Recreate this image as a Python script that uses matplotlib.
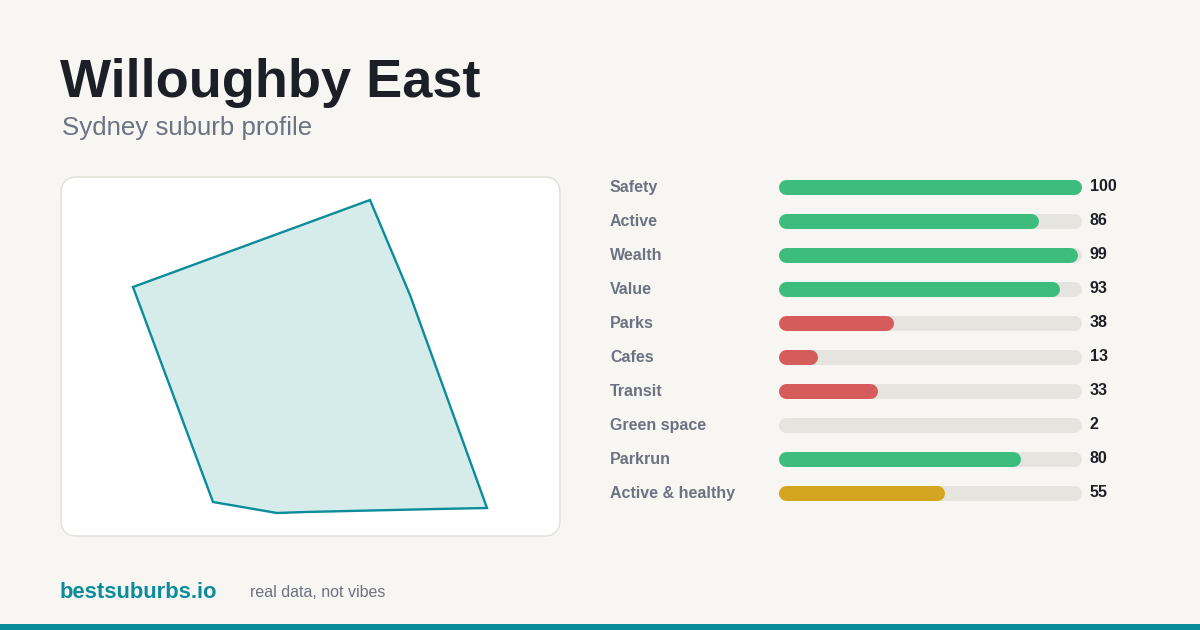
import matplotlib.pyplot as plt
from matplotlib.patches import FancyBboxPatch, Polygon, Rectangle

# === Data ===
suburb = "Willoughby East"
subtitle = "Sydney suburb profile"
metrics = ["Safety", "Active", "Wealth", "Value", "Parks", "Cafes",
           "Transit", "Green space", "Parkrun", "Active & healthy"]
scores = [100, 86, 99, 93, 38, 13, 33, 2, 80, 55]
bar_colors = ["#3dbd7d", "#3dbd7d", "#3dbd7d", "#3dbd7d", "#d65b5b",
              "#d65b5b", "#d65b5b", "#d65b5b", "#3dbd7d", "#d4a520"]

# suburb outline, local projected units (x east, y south)
outline_x = [370, 410, 487, 437, 393, 305, 277, 213, 133]
outline_y = [200, 295, 508, 509, 510, 512, 513, 502, 287]

# === Colours ===
bg = "#f7f6f3"
teal = "#0b8c9b"
dark = "#1c1f26"
grey = "#6b7280"
track = "#e6e4df"

W, H = 1200, 630
fig = plt.figure(figsize=(W / 100, H / 100), dpi=100, facecolor=bg)
ax = fig.add_axes([0, 0, 1, 1])
ax.set_xlim(0, W)
ax.set_ylim(H, 0)
ax.axis("off")
ax.set_facecolor(bg)

font = ["Liberation Sans", "DejaVu Sans"]

# === Header ===
ax.text(60, 97, suburb, fontsize=39, fontweight="bold", color=dark,
        family=font, va="baseline")
ax.text(62, 135, subtitle, fontsize=18.6, color=grey, family=font, va="baseline")

# === Map card ===
card = FancyBboxPatch((61, 177), 499, 359, boxstyle="round,pad=0,rounding_size=16",
                      facecolor="white", edgecolor="#e2dfd8", linewidth=1)
ax.add_patch(card)
shape = Polygon(list(zip(outline_x, outline_y)), closed=True,
                facecolor="#d5ecea", edgecolor=teal, linewidth=1.7,
                joinstyle="miter")
ax.add_patch(shape)

# === Score bars ===
x0, x1 = 778, 1081
bar_h = 15
lw = bar_h * 0.72
r = bar_h / 2
for i, (name, val, col) in enumerate(zip(metrics, scores, bar_colors)):
    y = 187 + 34 * i
    ax.text(610, y + 5, name, fontsize=11.5, fontweight="bold", color=grey,
            family=font, va="baseline")
    ax.plot([x0 + r, x1 - r], [y, y], color=track, linewidth=lw,
            solid_capstyle="round")
    end = x0 + (x1 - x0) * val / 100
    if end - x0 > bar_h:
        ax.plot([x0 + r, end - r], [y, y], color=col, linewidth=lw,
                solid_capstyle="round")
    ax.text(1090, y + 4, str(val), fontsize=11.5, fontweight="bold", color=dark,
            family=font, va="baseline")

# === Footer ===
ax.text(60, 598, "bestsuburbs.io", fontsize=15.8, fontweight="bold", color=teal,
        family=font, va="baseline")
ax.text(250, 597, "real data, not vibes", fontsize=11.5, color=grey,
        family=font, va="baseline")
ax.add_patch(Rectangle((0, 624), W, 6, facecolor=teal, edgecolor="none"))

fig.savefig("out.png", dpi=100, facecolor=bg)
